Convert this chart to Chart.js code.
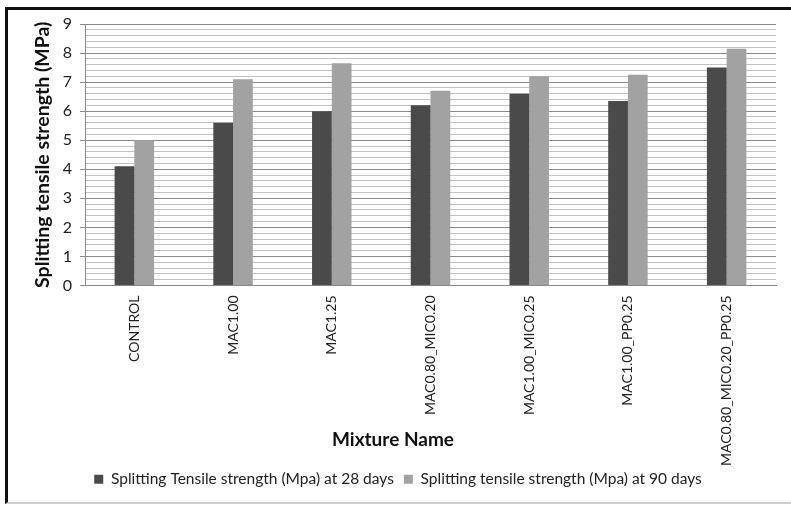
<!DOCTYPE html>
<html>
<head>
<meta charset="utf-8">
<title>Splitting tensile strength</title>
<script src="https://cdn.jsdelivr.net/npm/chart.js@4.4.1/dist/chart.umd.min.js"></script>
<style>
  html, body { margin: 0; padding: 0; background: #fff; }
  #wrap { position: relative; width: 791px; height: 505px; }
  #frame {
    position: absolute; left: 5px; top: 7px; right: 0; bottom: 1px;
    border-top: 3px solid #111; border-left: 3px solid #111;
    border-bottom: 2px solid #cfcfcf; pointer-events: none;
  }
</style>
</head>
<body>
<div id="wrap">
  <canvas id="myChart" width="791" height="505"></canvas>
  <div id="frame"></div>
</div>
<script>
// 資料
const mixtures = [
  "CONTROL",
  "MAC1.00",
  "MAC1.25",
  "MAC0.80_MIC0.20",
  "MAC1.00_MIC0.25",
  "MAC1.00_PP0.25",
  "MAC0.80_MIC0.20_PP0.25",
];
const strength28 = [4.1, 5.6, 6.0, 6.2, 6.6, 6.35, 7.5];
const strength90 = [5.0, 7.1, 7.65, 6.7, 7.2, 7.25, 8.15];
const label28 = "Splitting Tensile strength (Mpa) at 28 days";
const label90 = "Splitting tensile strength (Mpa) at 90 days";
const yTitle = "Splitting tensile strength (MPa)";
const xTitle = "Mixture Name";

const FONT = "Lato, 'Open Sans', sans-serif";
const isMajor = (v) => Math.abs(v - Math.round(v)) < 1e-6;

// x 軸標題畫在標籤區內（和 Excel 一樣）
const xTitlePlugin = {
  id: "xTitle",
  afterDraw(chart) {
    const { ctx, chartArea } = chart;
    ctx.save();
    ctx.font = "bold 19px " + FONT;
    ctx.fillStyle = "#111";
    ctx.textAlign = "center";
    ctx.textBaseline = "middle";
    ctx.fillText(xTitle, chartArea.left + 308, chartArea.bottom + 154);
    ctx.restore();
  },
};

const ctx = document.querySelector("#myChart").getContext("2d");
new Chart(ctx, {
  type: "bar",
  data: {
    labels: mixtures,
    datasets: [
      {
        label: label28,
        data: strength28,
        backgroundColor: "#4a4a4a",
        categoryPercentage: 0.4,
        barPercentage: 1.0,
      },
      {
        label: label90,
        data: strength90,
        backgroundColor: "#a2a2a2",
        categoryPercentage: 0.4,
        barPercentage: 1.0,
      },
    ],
  },
  options: {
    responsive: false,
    animation: false,
    layout: { padding: { left: 20, right: 15, top: 24, bottom: 8 } },
    plugins: {
      legend: {
        position: "bottom",
        labels: {
          font: { family: FONT, size: 15.5 },
          color: "#222",
          boxWidth: 9,
          boxHeight: 9,
          padding: 10,
        },
      },
      tooltip: { enabled: false },
    },
    scales: {
      x: {
        grid: { display: true, drawOnChartArea: false, drawTicks: false },
        border: { color: "#888" },
        ticks: {
          font: { family: FONT, size: 14 },
          color: "#222",
          minRotation: 90,
          maxRotation: 90,
          padding: 10,
        },
        afterFit(scale) {
          scale.height = 176;
          // 長標籤會伸進圖例區，不要裁切
          scale._computeLabelArea = () => null;
        },
      },
      y: {
        min: 0,
        max: 9,
        ticks: {
          stepSize: 0.2,
          autoSkip: false,
          font: { family: FONT, size: 16 },
          color: "#222",
          padding: 8,
          callback: (v) => (isMajor(v) ? String(Math.round(v)) : ""),
        },
        grid: {
          color: (c) => (isMajor(c.tick.value) ? "#8a8a8a" : "#c2c2c2"),
          tickColor: (c) => (isMajor(c.tick.value) ? "#8a8a8a" : "rgba(0,0,0,0)"),
          tickLength: 5,
          lineWidth: 1,
        },
        border: { color: "#8a8a8a" },
        title: {
          display: true,
          text: yTitle,
          font: { family: FONT, size: 19.5, weight: "bold" },
          color: "#111",
          padding: { top: 11, bottom: 4 },
        },
        afterFit(scale) {
          scale.width = 65;
        },
      },
    },
  },
  plugins: [xTitlePlugin],
});
</script>
</body>
</html>
